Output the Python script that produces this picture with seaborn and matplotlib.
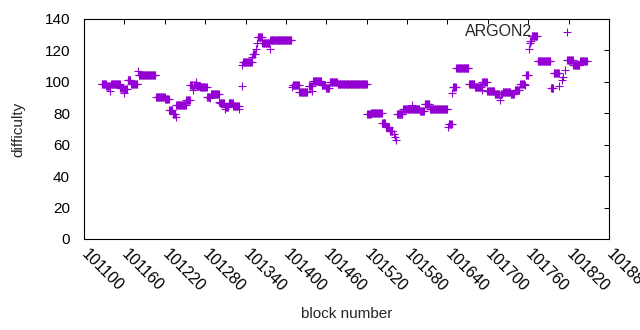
import numpy as np
import pandas as pd
import matplotlib
matplotlib.use("Agg")
import matplotlib.pyplot as plt
import seaborn as sns

base_block = 101100
run_start = [26, 33, 39, 40, 54, 59, 60, 65, 70, 80, 81, 107, 121, 127, 128, 132, 136, 137, 152, 158,
             159, 162, 163, 167, 168, 173, 183, 187, 188, 201, 202, 209, 210, 215, 222, 231, 234, 235, 236, 250,
             251, 255, 257, 258, 265, 276, 277, 309, 310, 320, 334, 339, 340, 353, 359, 365, 377, 421, 427, 443,
             448, 454, 460, 462, 464, 465, 474, 487, 488, 499, 506, 514, 541, 542, 547, 548, 553, 572, 581, 591,
             592, 599, 610, 618, 619, 622, 634, 640, 648, 655, 656, 661, 662, 663, 665, 674, 694, 698, 706, 710,
             712, 715, 718, 727, 737]
run_end = [32, 38, 39, 53, 58, 59, 64, 69, 79, 80, 106, 120, 126, 127, 131, 135, 136, 151, 157, 158,
           161, 162, 166, 167, 172, 182, 186, 187, 200, 201, 208, 209, 214, 221, 230, 231, 234, 235, 249, 250,
           254, 255, 257, 264, 275, 276, 308, 309, 319, 332, 338, 339, 352, 358, 364, 376, 420, 426, 442, 447,
           453, 458, 460, 462, 464, 473, 486, 487, 498, 505, 513, 540, 541, 546, 547, 552, 571, 580, 590, 591,
           598, 609, 617, 618, 621, 633, 639, 647, 654, 655, 660, 661, 662, 664, 673, 693, 697, 705, 706, 710,
           712, 715, 726, 736, 747]
run_value = [98.8, 97.6, 94.4, 98.4, 96.3, 93.1, 95.3, 101.0, 98.6, 106.9, 104.4, 90.2, 89.3, 82.1, 81.9, 79.3, 77.4, 85.1, 88.2, 98.0,
             97.8, 94.8, 97.8, 100.1, 97.4, 96.5, 90.6, 89.5, 92.1, 87.0, 86.8, 82.5, 84.2, 86.3, 84.6, 82.5, 97.6, 110.7, 112.4, 115.6,
             117.5, 120.9, 124.5, 128.3, 124.5, 120.9, 126.4, 97.0, 97.8, 93.3, 97.4, 94.2, 100.5, 98.0, 96.1, 100.1, 98.4, 79.5, 80.4, 73.8,
             71.3, 68.7, 66.8, 64.7, 63.0, 79.5, 82.9, 85.3, 82.9, 81.2, 85.7, 82.9, 71.5, 73.4, 92.7, 97.0, 108.6, 98.4, 97.0, 94.8,
             99.9, 94.0, 92.1, 88.5, 92.1, 93.5, 92.1, 95.0, 98.4, 98.0, 104.2, 120.7, 124.5, 126.0, 129.4, 113.3, 96.1, 105.6, 97.4, 101.2,
             103.3, 107.5, 113.7, 110.5, 113.3]

blocks = []
diffs = []
for s, e, v in zip(run_start, run_end, run_value):
    for b in range(s, e + 1):
        blocks.append(base_block + b)
        diffs.append(v)
df = pd.DataFrame({"block": blocks, "difficulty": diffs})

x_ticks = np.arange(101100, 101881, 60)
y_ticks = np.arange(0, 141, 20)

sns.set_theme(style="white")
plt.rcParams["font.family"] = ["Liberation Sans", "DejaVu Sans"]

fig = plt.figure(figsize=(6.4, 3.3), dpi=100)
ax = fig.add_axes([84 / 640, 91 / 330, 525 / 640, 220 / 330])

sns.scatterplot(data=df, x="block", y="difficulty", marker="+", s=30, linewidth=0.8,
                color="#9400d3", label="ARGON2", ax=ax)

ax.set_xlim(101100, 101880)
ax.set_ylim(0, 140)
ax.set_xticks(x_ticks)
ax.set_yticks(y_ticks)
ax.set_xticklabels([str(t) for t in x_ticks], rotation=-45, ha="left", va="center",
                   rotation_mode="anchor")
ax.tick_params(direction="in", length=3.5, width=0.7, top=True, right=True,
               labelsize=11, colors="black")
ax.tick_params(axis="x", pad=9, labelsize=11.5)
ax.tick_params(axis="y", pad=10)
for sp in ax.spines.values():
    sp.set_color("black")
    sp.set_linewidth(0.8)

ax.set_xlabel("block number", fontsize=11, labelpad=9)
ax.set_ylabel("difficulty", fontsize=11, labelpad=14)

ax.legend(loc="upper right", bbox_to_anchor=(0.956, 0.975), markerfirst=False, frameon=False,
          fontsize=11.5, handlelength=2.4, handletextpad=1.0, borderpad=0, borderaxespad=0,
          markerscale=1.0)

fig.savefig("out.png", dpi=100)
